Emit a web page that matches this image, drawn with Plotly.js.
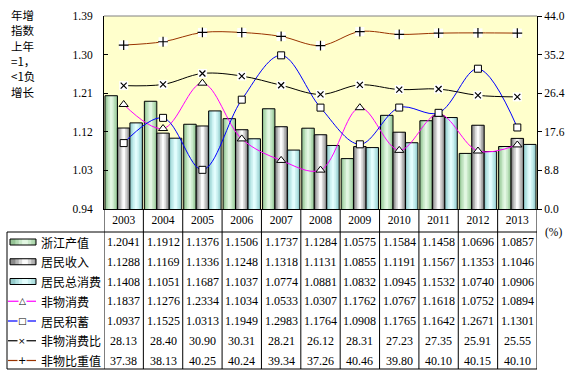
<!DOCTYPE html>
<html>
<head>
<meta charset="utf-8">
<script src="https://cdn.plot.ly/plotly-3.0.1.min.js"></script>
<style>html,body{margin:0;padding:0;background:#fff;}#chart{width:577px;height:375px;}</style>
</head>
<body>
<div id="chart"></div>
<script>
// ---- data ----
const years = ['2003','2004','2005','2006','2007','2008','2009','2010','2011','2012','2013'];
const zjOutput   = [1.2041,1.1912,1.1376,1.1506,1.1737,1.1284,1.0575,1.1584,1.1458,1.0696,1.0857];
const income     = [1.1288,1.1169,1.1336,1.1248,1.1318,1.1131,1.0855,1.1191,1.1567,1.1353,1.1046];
const totalCons  = [1.1408,1.1051,1.1687,1.1037,1.0774,1.0881,1.0832,1.0945,1.1532,1.0740,1.0906];
const nonMatCons = [1.1837,1.1276,1.2334,1.1034,1.0533,1.0307,1.1762,1.0767,1.1618,1.0752,1.0894];
const savings    = [1.0937,1.1525,1.0313,1.1949,1.2983,1.1764,1.0908,1.1765,1.1642,1.2671,1.1301];
const nonMatRatio= [28.13,28.40,30.90,30.31,28.21,26.12,28.31,27.23,27.35,25.91,25.55];
const nonMatShare= [37.38,38.13,40.25,40.24,39.34,37.26,40.46,39.80,40.10,40.15,40.10];
const seriesNames = ['浙江产值','居民收入','居民总消费','非物消费','居民积蓄','非物消费比','非物比重值'];
const sideLabel = ['年增','指数','上年','=1，','&lt;1负','增长'];

// ---- geometry helpers ----
const W = 577, H = 375;
const X0 = 104, X1 = 537, Y0 = 16, Y1 = 209;
const px = p => p / W, py = p => 1 - p / H;
const SERIF = 'Liberation Serif, Times New Roman, serif';
const CJK = 'Noto Sans CJK SC, sans-serif';

const greenC = ['#96c496','#b2dab2','#cbeacb','#e2f7e2'];
const grayC  = ['#8a8a8a','#b3b3b3','#d9d9d9','#fbfbfb'];
const cyanC  = ['#96cccc','#b3e2e2','#ccf1f1','#e3fdfd'];

const traces = [];
const BW = 0.3167;
const fr = [1, 0.74, 0.48, 0.22];
[[zjOutput, greenC],[income, grayC],[totalCons, cyanC]].forEach(([vals, cols], k) => {
  const o = -0.475 + k * BW;
  fr.forEach((f, j) => {
    traces.push({type:'bar', x:years, y:vals, offset:o + (1-f)*BW/2, width:f*BW,
      marker:{color:cols[j], line:{width:0}}, hoverinfo:'skip', showlegend:false});
  });
  traces.push({type:'bar', x:years, y:vals, offset:o, width:BW,
    marker:{color:'rgba(0,0,0,0)', line:{color:'#000', width:1}}, hoverinfo:'skip', showlegend:false});
});

const spl = {shape:'spline', smoothing:1};
traces.push({type:'scatter', mode:'lines+markers', x:years, y:nonMatCons, yaxis:'y',
  line:Object.assign({color:'#ff00ff', width:1}, spl),
  marker:{symbol:'triangle-up', size:8, color:'#fff', line:{color:'#000', width:1}}, showlegend:false});
traces.push({type:'scatter', mode:'lines+markers', x:years, y:savings, yaxis:'y',
  line:Object.assign({color:'#0000ff', width:1}, spl),
  marker:{symbol:'square', size:7, color:'#fff', line:{color:'#000', width:1}}, showlegend:false});

[[nonMatRatio,'#000000','x-thin',6],[nonMatShare,'#993300','cross-thin',7]].forEach(([vals,col,sym,sz]) => {
  traces.push({type:'scatter', mode:'lines', x:years, y:vals, yaxis:'y2',
    line:Object.assign({color:col, width:1}, spl), showlegend:false});
  traces.push({type:'scatter', mode:'markers', x:years, y:vals, yaxis:'y2',
    marker:{symbol:'square', size:9, color:'#fff', line:{width:0}}, showlegend:false});
  traces.push({type:'scatter', mode:'markers', x:years, y:vals, yaxis:'y2',
    marker:{symbol:sym, size:sz, color:'#000', line:{color:'#000', width:1.2}}, showlegend:false});
});

// ---- table (shapes + annotations) ----
const shapes = [];
const annotations = [];
const TT = 232, TB = 369;
const lineS = (x0,y0,x1,y1,xref,col,w) => ({type:'line', xref:xref||'paper', yref:'paper',
  x0:x0, y0:y0, x1:x1, y1:y1, line:{color:col||'#000', width:w||1}});
// top border of plot
shapes.push(lineS(px(X0), py(Y0), px(X1), py(Y0), 'paper', '#808080', 1));
for (let i = 0; i <= years.length; i++) {
  shapes.push(lineS(i - 0.5, py(Y1), i - 0.5, py(TB), 'x'));
}
shapes.push(lineS(px(7), py(TT), px(7), py(TB)));
shapes.push(lineS(px(7), py(TT), px(X1), py(TT)));
shapes.push(lineS(px(7), py(TB), px(X1), py(TB)));

const rowY = k => 242 + k * 19.75;
const tableRows = [zjOutput, income, totalCons, nonMatCons, savings, nonMatRatio, nonMatShare];
tableRows.forEach((vals, k) => {
  const dec = k < 5 ? 4 : 2;
  vals.forEach((v, i) => {
    annotations.push({xref:'x', yref:'paper', x:i, y:py(rowY(k)), text:v.toFixed(dec),
      showarrow:false, xanchor:'center', yanchor:'middle', font:{family:SERIF, size:12, color:'#000'}});
  });
  annotations.push({xref:'paper', yref:'paper', x:px(39), y:py(rowY(k)), text:seriesNames[k],
    showarrow:false, xanchor:'left', yanchor:'middle', font:{family:CJK, size:12, color:'#000'}});
});

// legend keys
[greenC, grayC, cyanC].forEach((cols, k) => {
  const cy = rowY(k), x0 = 10, x1 = 36, h = 3;
  fr.forEach((f, j) => {
    const w = (x1 - x0) * f, c = (x0 + x1) / 2 + 2;
    const a = Math.max(x0, c - w/2), b = Math.min(x1, c + w/2);
    shapes.push({type:'rect', xref:'paper', yref:'paper', x0:px(j===0?x0:a), x1:px(j===0?x1:b),
      y0:py(cy-h), y1:py(cy+h), fillcolor:cols[j], line:{width:0}});
  });
  shapes.push({type:'rect', xref:'paper', yref:'paper', x0:px(x0), x1:px(x1), y0:py(cy-h), y1:py(cy+h),
    fillcolor:'rgba(0,0,0,0)', line:{color:'#000', width:1}});
});
[['#ff00ff','△',9],['#0000ff','□',9],['#000000','×',9],['#993300','+',10]].forEach(([col, g, fs], j) => {
  const cy = rowY(3 + j);
  shapes.push(lineS(px(8), py(cy), px(36), py(cy), 'paper', col, 1.2));
  annotations.push({xref:'paper', yref:'paper', x:px(22), y:py(cy), text:g, showarrow:false,
    xanchor:'center', yanchor:'middle', bgcolor:'#fff', borderpad:0,
    font:{family:'DejaVu Sans, sans-serif', size:fs, color:'#000'}});
});

// side texts
sideLabel.forEach((t, k) => {
  annotations.push({xref:'paper', yref:'paper', x:px(9), y:py(15 + k * 15.35), xanchor:'left', yanchor:'middle',
    showarrow:false, text:t, font:{family:CJK, size:11.5, color:'#000'}});
});
annotations.push({xref:'paper', yref:'paper', x:px(543), y:py(233), xanchor:'left', yanchor:'middle',
  showarrow:false, text:'(%)', font:{family:SERIF, size:11.5, color:'#000'}});

const layout = {
  width: W, height: H, autosize: false,
  margin: {l:0, r:0, t:0, b:0, pad:0},
  paper_bgcolor: '#fff', plot_bgcolor: '#ffffcc',
  barmode: 'overlay', showlegend: false,
  font: {family: SERIF, size: 11.5, color: '#000'},
  xaxis: {type:'category', domain:[px(X0), px(X1)], range:[-0.5, 10.5], showline:true, linecolor:'#000', linewidth:1,
    ticks:'', showgrid:false, zeroline:false, tickfont:{family:SERIF, size:11.5, color:'#000'}, fixedrange:true},
  yaxis: {domain:[py(Y1), py(Y0)], range:[0.94, 1.39], tick0:0.94, dtick:0.09, tickformat:'.2f',
    ticks:'inside', ticklen:4, tickcolor:'#000', showline:true, linecolor:'#000', linewidth:1,
    showgrid:false, zeroline:false, ticklabelstandoff:8, tickfont:{family:SERIF, size:11.5, color:'#000'}},
  yaxis2: {overlaying:'y', side:'right', range:[0, 44], tick0:0, dtick:8.8, tickformat:'.1f',
    ticks:'outside', ticklen:4, tickcolor:'#000', showline:true, linecolor:'#000', linewidth:1,
    showgrid:false, zeroline:false, tickfont:{family:SERIF, size:11.5, color:'#000'}},
  shapes: shapes, annotations: annotations
};
Plotly.newPlot('chart', traces, layout, {staticPlot:true, displayModeBar:false});
</script>
</body>
</html>
